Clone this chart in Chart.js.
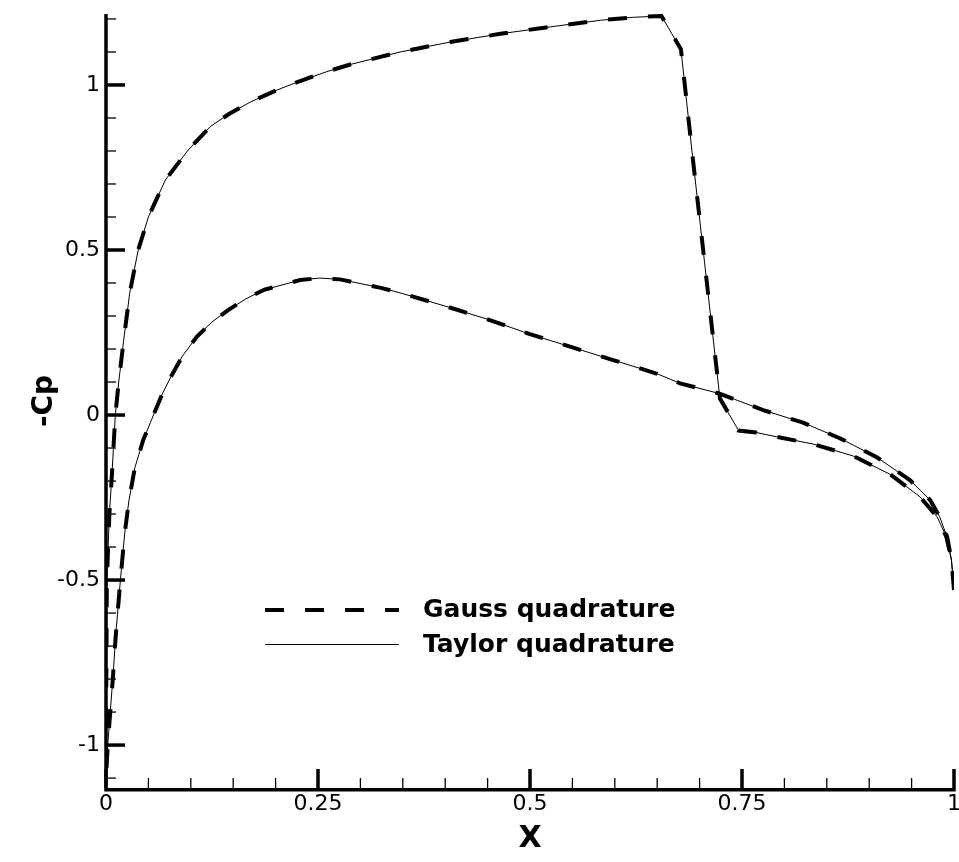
<!DOCTYPE html>
<html>
<head>
<meta charset="utf-8">
<script src="https://cdn.jsdelivr.net/npm/chart.js@4/dist/chart.umd.min.js"></script>
<style>
  html, body { margin: 0; padding: 0; background: #fff; }
  #wrap { width: 959px; height: 862px; }
</style>
</head>
<body>
<div id="wrap"><canvas id="cp" width="959" height="862"></canvas></div>
<script>
// Pressure coefficient along the airfoil, upper and lower surface (x from leading to trailing edge)
const upperX  = [0.0, 0.0003, 0.001, 0.004, 0.007, 0.011, 0.015, 0.021, 0.028, 0.038, 0.05, 0.07, 0.097, 0.123,
                 0.145, 0.17, 0.2, 0.229, 0.26, 0.288, 0.347, 0.406, 0.465, 0.524, 0.583, 0.622, 0.655,
                 0.678, 0.691, 0.724, 0.746, 0.767, 0.791, 0.834, 0.881, 0.925, 0.960, 0.980, 0.991, 0.997, 1.0];
const upperCp = [-1.10, -0.85, -0.5, -0.3, -0.18, 0.0, 0.1, 0.23, 0.37, 0.5, 0.6, 0.712, 0.803, 0.874,
                 0.912, 0.948, 0.983, 1.012, 1.04, 1.062, 1.10, 1.13, 1.155, 1.176, 1.196, 1.205, 1.209,
                 1.108, 0.80, 0.05, -0.047, -0.053, -0.066, -0.088, -0.124, -0.180, -0.248, -0.308, -0.369, -0.439, -0.53];
const lowerX  = [0.0, 0.002, 0.005, 0.008, 0.012, 0.017, 0.022, 0.027, 0.034, 0.044, 0.056, 0.066, 0.077,
                 0.09, 0.107, 0.125, 0.144, 0.165, 0.186, 0.229, 0.252, 0.276, 0.323, 0.347, 0.40, 0.45,
                 0.50, 0.55, 0.60, 0.65, 0.677, 0.722, 0.775, 0.822, 0.866, 0.909, 0.948, 0.972, 0.983,
                 0.992, 0.997, 1.0];
const lowerCp = [-1.10, -1.0, -0.9, -0.8, -0.65, -0.5, -0.36, -0.26, -0.16, -0.075, 0.0, 0.062, 0.118,
                 0.178, 0.237, 0.282, 0.318, 0.352, 0.379, 0.409, 0.415, 0.411, 0.386, 0.370, 0.33, 0.29,
                 0.245, 0.205, 0.165, 0.125, 0.096, 0.066, 0.015, -0.023, -0.071, -0.128, -0.197, -0.258, -0.308,
                 -0.37, -0.44, -0.53];

const seriesNames = ['Gauss quadrature', 'Taylor quadrature'];

const xTickValues = [0, 0.25, 0.5, 0.75, 1];
const yTickValues = [-1, -0.5, 0, 0.5, 1];
const xMinorStep = 0.05;
const yMinorStep = 0.1;

// Closed contour: trailing edge -> leading edge over the upper side, back along the lower side
function contour() {
  const pts = [];
  for (let i = upperX.length - 1; i >= 0; i--) pts.push({ x: upperX[i], y: upperCp[i] });
  for (let i = 1; i < lowerX.length; i++) pts.push({ x: lowerX[i], y: lowerCp[i] });
  return pts;
}

const FONT = 'DejaVu Sans';

// Axis lines with inward-pointing major and minor ticks
const frameTicks = {
  id: 'frameTicks',
  beforeDatasetsDraw(chart) {
    const { ctx, chartArea: a, scales: { x, y } } = chart;
    ctx.save();
    ctx.strokeStyle = '#000';
    ctx.lineCap = 'butt';
    const isMajor = (v, list) => list.some(t => Math.abs(t - v) < 1e-6);
    // x ticks
    for (let k = 0; k <= Math.round((x.max - x.min) / xMinorStep); k++) {
      const v = x.min + k * xMinorStep;
      const px = x.getPixelForValue(v);
      const major = isMajor(v, xTickValues);
      ctx.lineWidth = major ? 3.5 : 1.3;
      ctx.beginPath();
      ctx.moveTo(px, a.bottom);
      ctx.lineTo(px, a.bottom - (major ? 19 : 10));
      ctx.stroke();
    }
    // y ticks
    const yStart = Math.ceil(y.min / yMinorStep - 1e-9);
    const yEnd = Math.floor(y.max / yMinorStep + 1e-9);
    for (let k = yStart; k <= yEnd; k++) {
      const v = k * yMinorStep;
      const py = y.getPixelForValue(v);
      const major = isMajor(v, yTickValues);
      ctx.lineWidth = major ? 3.5 : 1.3;
      ctx.beginPath();
      ctx.moveTo(a.left, py);
      ctx.lineTo(a.left + (major ? 19 : 10), py);
      ctx.stroke();
    }
    // axis lines
    ctx.lineWidth = 3.5;
    ctx.beginPath();
    ctx.moveTo(a.left, a.top);
    ctx.lineTo(a.left, a.bottom + 1.75);
    ctx.lineTo(x.getPixelForValue(x.max) + 1.75, a.bottom + 1.75);
    ctx.stroke();
    ctx.restore();
  }
};

// Line-sample legend inside the plot area
const inlineLegend = {
  id: 'inlineLegend',
  afterDraw(chart) {
    const { ctx } = chart;
    const x0 = 265, x1 = 399, tx = 423;
    const rows = [610, 644.5];
    ctx.save();
    chart.data.datasets.forEach((ds, i) => {
      const yy = rows[i];
      ctx.strokeStyle = ds.borderColor;
      ctx.lineWidth = ds.borderWidth;
      ctx.setLineDash(ds.borderDash || []);
      ctx.lineCap = 'butt';
      ctx.beginPath();
      ctx.moveTo(x0, yy);
      ctx.lineTo(x1, yy);
      ctx.stroke();
      ctx.setLineDash([]);
      ctx.fillStyle = '#000';
      ctx.font = 'bold 25px "' + FONT + '"';
      ctx.textBaseline = 'middle';
      ctx.textAlign = 'left';
      ctx.fillText(ds.label, tx, Math.round(yy));
    });
    ctx.restore();
  }
};

new Chart(document.getElementById('cp'), {
  type: 'line',
  data: {
    datasets: [
      {
        label: seriesNames[0],
        data: contour(),
        borderColor: '#000',
        borderWidth: 4,
        borderDash: [19, 21],
        borderCapStyle: 'butt',
        pointRadius: 0,
        tension: 0,
        fill: false,
        order: 2
      },
      {
        label: seriesNames[1],
        data: contour(),
        borderColor: '#000',
        borderWidth: 1,
        pointRadius: 0,
        tension: 0,
        fill: false,
        order: 1
      }
    ]
  },
  options: {
    responsive: false,
    animation: false,
    events: [],
    layout: { padding: { top: 14, right: 5, left: 0, bottom: 0 } },
    plugins: { legend: { display: false }, tooltip: { enabled: false } },
    scales: {
      x: {
        type: 'linear',
        min: 0,
        max: 1,
        afterBuildTicks: s => { s.ticks = xTickValues.map(v => ({ value: v })); },
        afterFit: s => { s.height = 74; s.paddingLeft = 0; s.paddingRight = 0; },
        grid: { display: false, drawTicks: false },
        border: { display: false },
        ticks: {
          color: '#000',
          font: { family: FONT, size: 22 },
          padding: 3,
          maxRotation: 0,
          autoSkip: false,
          callback: v => String(v)
        },
        title: {
          display: true,
          text: 'X',
          color: '#000',
          font: { family: FONT, size: 30, weight: 'bold' },
          padding: { top: 0, bottom: 5 }
        }
      },
      y: {
        type: 'linear',
        min: -1.13,
        max: 1.215,
        afterBuildTicks: s => { s.ticks = yTickValues.map(v => ({ value: v })); },
        afterFit: s => { s.width = 106; s.paddingTop = 0; s.paddingBottom = 0; },
        grid: { display: false, drawTicks: false },
        border: { display: false },
        ticks: {
          color: '#000',
          font: { family: FONT, size: 22 },
          padding: 6,
          autoSkip: false,
          callback: v => String(v)
        },
        title: {
          display: true,
          text: '-Cp',
          color: '#000',
          font: { family: FONT, size: 28, weight: 'bold' },
          padding: { top: 28, bottom: 0 }
        }
      }
    }
  },
  plugins: [frameTicks, inlineLegend]
});
</script>
</body>
</html>
